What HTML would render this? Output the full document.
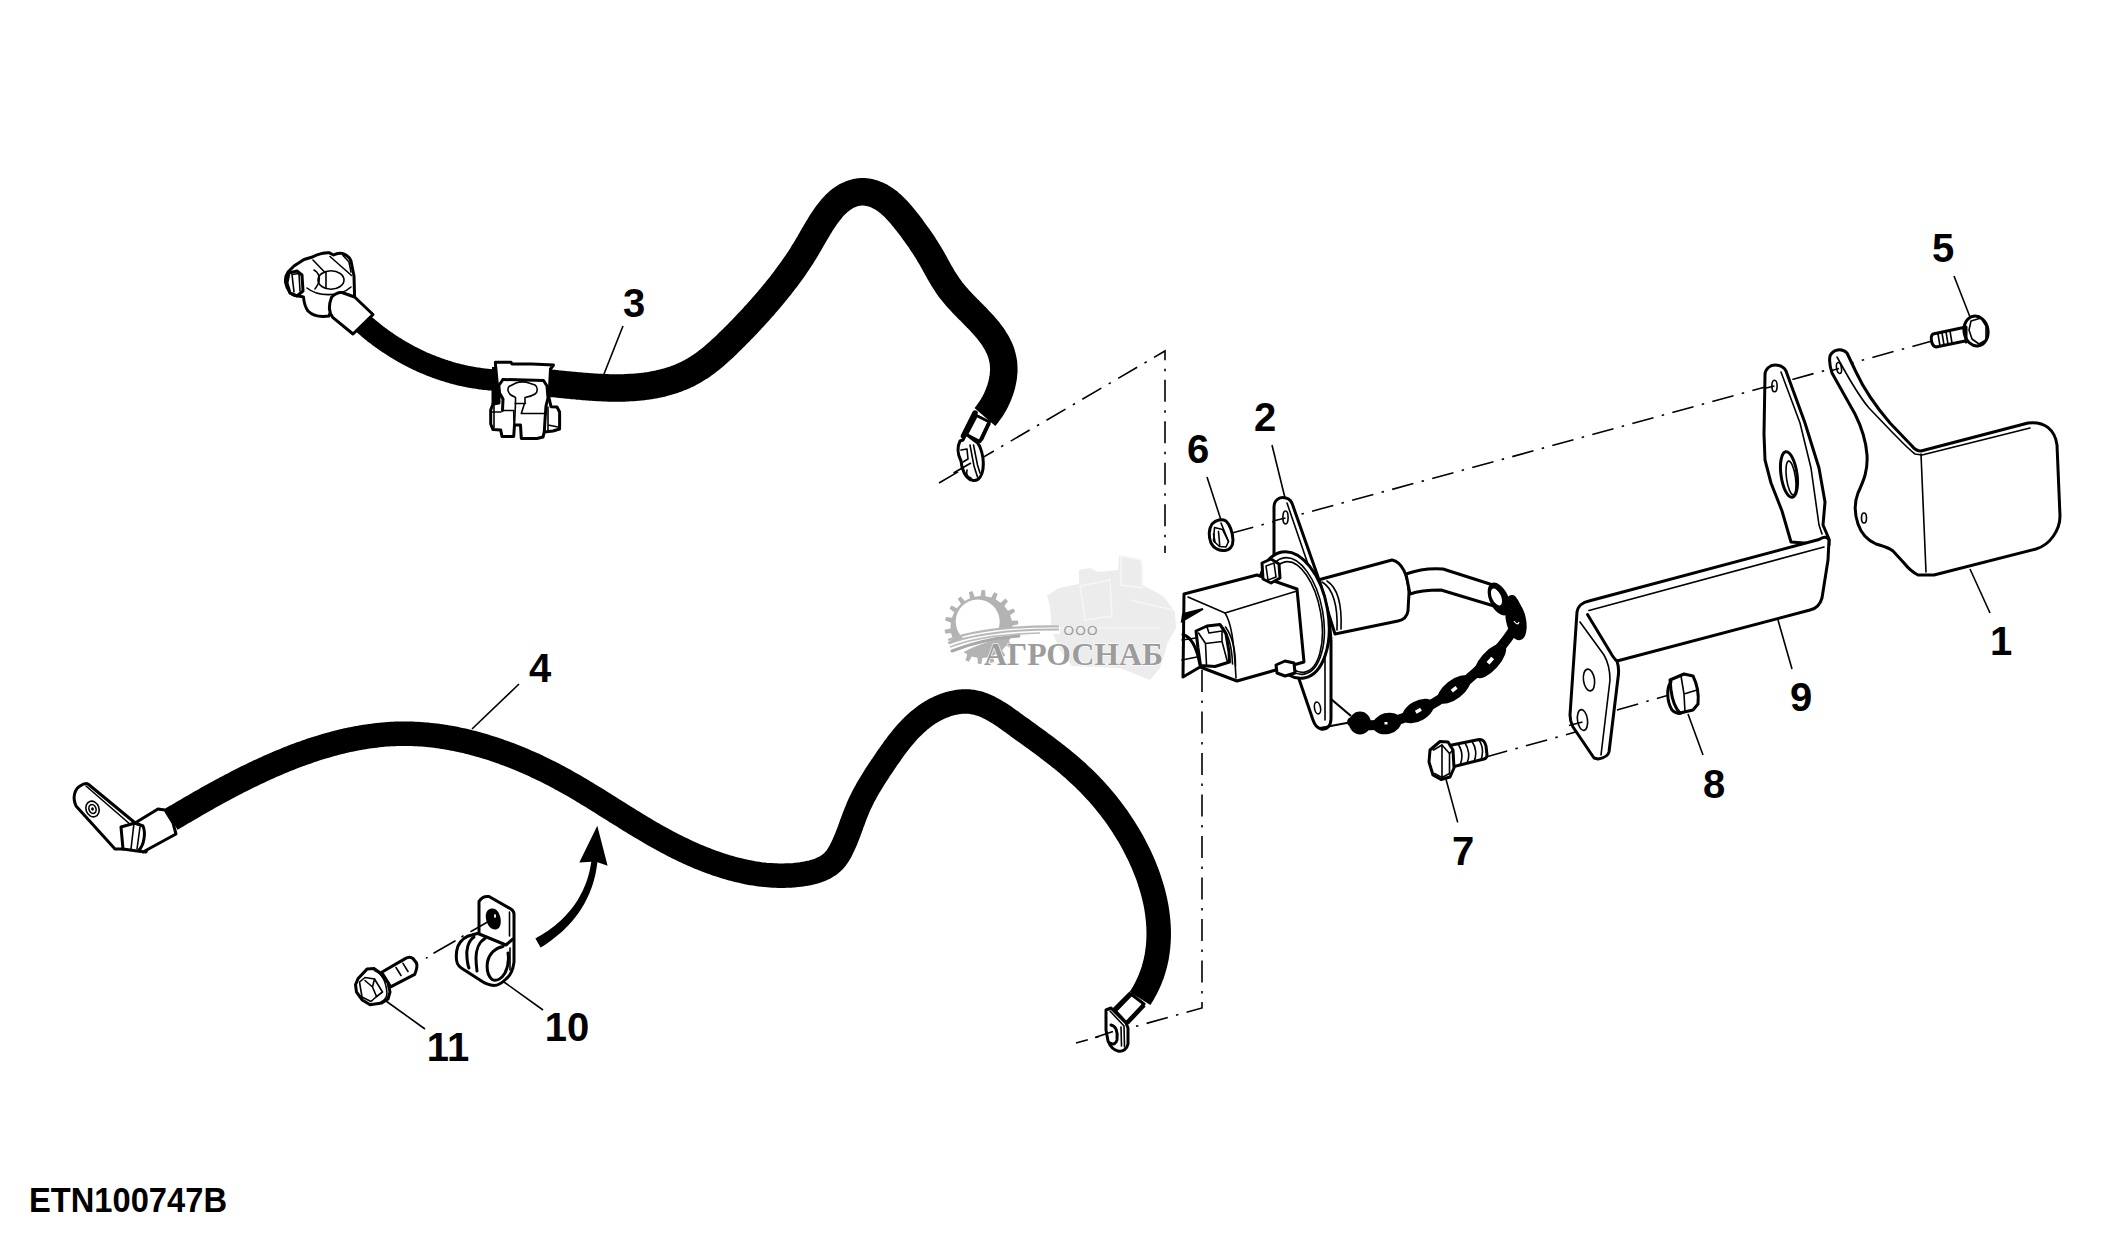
<!DOCTYPE html>
<html><head><meta charset="utf-8"><style>
html,body{margin:0;padding:0;background:#fff;}
svg{display:block;}
</style></head><body>
<svg width="2126" height="1241" viewBox="0 0 2126 1241">
<rect width="2126" height="1241" fill="#fff"/>

<g id="wm">
 <path d="M1059,588 L1079,584 L1079,570 L1090,568 L1098,572 L1118,570 L1119,556 L1140,560 L1143,568 L1143,585 L1163,596 L1175,612 L1176,628 L1168,642 L1160,668 L1150,680 L1140,676 L1120,668 L1072,666 L1060,650 L1052,632 L1050,606 L1047,596 Z" fill="#ececec"/>
 <g fill="none" stroke="#f6f6f6" stroke-width="1.5">
  <path d="M1080,586 L1110,580 L1112,616 L1085,620 Z"/>
  <path d="M1121,556 L1142,560 L1142,588 L1121,585 Z"/>
  <path d="M1130,600 L1173,610"/>
  <path d="M1062,628 L1160,628"/>
 </g>
 <path d="M1012.2,631.5 L1017.9,633.4 L1017.1,637.1 L1011.1,636.3 L1008.8,641.7 L1013.6,645.5 L1011.5,648.6 L1006.1,645.8 L1002.1,650.2 L1005.3,655.3 L1002.3,657.6 L998.2,653.1 L992.9,655.8 L994.2,661.8 L990.6,662.9 L988.3,657.2 L982.4,658.0 L981.5,664.0 L977.8,663.8 L977.5,657.7 L971.7,656.4 L968.9,661.8 L965.4,660.3 L967.3,654.5 L962.3,651.3 L957.7,655.4 L955.0,652.8 L958.7,648.0 L955.1,643.3 L949.5,645.5 L947.8,642.2 L952.9,638.9 L951.1,633.3 L945.1,633.4 L944.6,629.7 L950.5,628.4 L950.8,622.5 L945.1,620.6 L945.9,616.9 L951.9,617.7 L954.2,612.3 L949.4,608.5 L951.5,605.4 L956.9,608.2 L960.9,603.8 L957.7,598.7 L960.7,596.4 L964.8,600.9 L970.1,598.2 L968.8,592.2 L972.4,591.1 L974.7,596.8 L980.6,596.0 L981.5,590.0 L985.2,590.2 L985.5,596.3 L991.3,597.6 L994.1,592.2 L997.6,593.7 L995.7,599.5 L1000.7,602.7 L1005.3,598.6 L1008.0,601.2 L1004.3,606.0 L1007.9,610.7 L1013.5,608.5 L1015.2,611.8 L1010.1,615.1 L1011.9,620.7 L1017.9,620.6 L1018.4,624.3 L1012.5,625.6 Z M999.7,621.6 A22,22 0 1,0 955.7,621.6 A22,22 0 1,0 999.7,621.6 Z" fill="#b3b3b3" fill-rule="evenodd"/>
 <path d="M946,646 C975,630 1010,626 1060,626 L1060,634 C1010,634 980,640 950,660 Z" fill="#fff"/>
 <path d="M948,640 C975,630 1010,626 1059,626.5" stroke="#b8b8b8" stroke-width="2.2" fill="none"/>
 <path d="M949,643.5 C975,633.5 1010,629.5 1059,629.5" stroke="#b8b8b8" stroke-width="1.8" fill="none"/>
 <path d="M950,647 C976,637 1005,634 1040,633" stroke="#bcbcbc" stroke-width="1.6" fill="none"/>
 <path d="M952,651 C978,641 1000,637.5 1019,636" stroke="#a8a8a8" stroke-width="3" fill="none" stroke-linecap="round"/>
 <text x="1063.5" y="634.5" font-family="Liberation Sans, sans-serif" font-size="13.5" fill="#9a9a9a" letter-spacing="1.2">ООО</text>
 <text x="984" y="665" font-family="Liberation Serif, serif" font-weight="bold" font-size="31" fill="#9c9c9c" stroke="#fff" stroke-width="1.2" paint-order="stroke" textLength="179" lengthAdjust="spacingAndGlyphs">АГРОСНАБ</text>
</g>

<path d="M939,483 L1165,351 L1165,553" stroke="#000" stroke-width="1.6" fill="none" stroke-dasharray="22,8.5,2.5,8.5"/>
<path d="M1202,670 L1202,1008 L1076,1043" stroke="#000" stroke-width="1.6" fill="none" stroke-dasharray="22,8.5,2.5,8.5"/>
<path d="M1232,533 L1500,460 L1932,341" stroke="#000" stroke-width="1.6" fill="none" stroke-dasharray="22,8.5,2.5,8.5"/>
<path d="M1486,757 L1579,731" stroke="#000" stroke-width="1.6" fill="none" stroke-dasharray="22,8.5,2.5,8.5"/>
<path d="M1617,710 L1669,695" stroke="#000" stroke-width="1.6" fill="none" stroke-dasharray="22,8.5,2.5,8.5"/>
<path d="M362.2,322.8 L363.2,323.7 L364.2,324.5 L365.1,325.4 L366.2,326.3 L367.2,327.1 L368.2,328.0 L369.2,328.8 L370.2,329.7 L371.2,330.5 L372.3,331.3 L373.3,332.2 L374.3,333.0 L375.4,333.8 L376.4,334.6 L377.5,335.4 L378.5,336.2 L379.6,337.0 L380.7,337.8 L381.7,338.6 L382.8,339.3 L383.9,340.1 L385.0,340.9 L386.1,341.6 L387.1,342.4 L388.2,343.1 L389.3,343.8 L390.5,344.6 L391.6,345.3 L392.7,346.0 L393.8,346.7 L394.9,347.4 L396.0,348.1 L397.2,348.8 L398.3,349.5 L399.4,350.2 L400.6,350.8 L401.7,351.5 L402.9,352.2 L404.0,352.8 L405.2,353.5 L406.3,354.1 L407.5,354.7 L408.7,355.4 L409.8,356.0 L411.0,356.6 L412.2,357.2 L413.4,357.8 L414.5,358.4 L415.7,359.0 L416.9,359.5 L418.1,360.1 L419.3,360.7 L420.5,361.2 L421.7,361.8 L422.9,362.3 L424.1,362.8 L425.4,363.4 L426.6,363.9 L427.8,364.4 L429.0,364.9 L430.2,365.4 L431.5,365.9 L432.7,366.4 L433.9,366.8 L435.2,367.3 L436.4,367.7 L437.6,368.2 L438.9,368.6 L440.1,369.1 L441.4,369.5 L442.6,369.9 L443.9,370.3 L445.1,370.7 L446.4,371.1 L447.7,371.5 L448.9,371.9 L450.2,372.3 L451.5,372.6 L452.7,373.0 L454.0,373.4 L455.3,373.7 L456.6,374.0 L457.8,374.4 L459.1,374.7 L460.4,375.0 L461.7,375.3 L463.0,375.6 L464.3,375.9 L465.6,376.1 L466.9,376.4 L468.2,376.7 L469.5,376.9 L470.8,377.2 L472.1,377.4 L473.4,377.6 L474.7,377.8 L476.0,378.0 L477.3,378.2 L478.6,378.4 L479.9,378.6 L481.2,378.8 L482.5,379.0 L483.8,379.1 L485.2,379.3 L486.5,379.4 L487.8,379.5 L489.1,379.7 L490.4,379.8 L491.8,379.9 L493.1,380.0 L494.4,380.1 L495.7,380.1 L497.1,380.2 L498.4,380.3 L499.7,380.3 L501.0,380.4 L502.4,380.4 L503.7,380.4 L505.0,380.4" stroke="#000" stroke-width="21.5" fill="none" stroke-linejoin="round"/>
<path d="M492.0,380.7 L493.9,380.7 L495.7,380.6 L497.6,380.5 L499.5,380.5 L501.4,380.5 L503.2,380.5 L505.1,380.5 L507.0,380.5 L508.8,380.5 L510.7,380.5 L512.5,380.6 L514.4,380.6 L516.3,380.7 L518.1,380.8 L520.0,380.9 L521.8,381.0 L523.7,381.1 L525.5,381.2 L527.4,381.3 L529.2,381.4 L531.1,381.5 L532.9,381.7 L534.8,381.8 L536.6,382.0 L538.5,382.1 L540.3,382.3 L542.2,382.5 L544.0,382.6 L545.9,382.8 L547.7,383.0 L549.5,383.2 L551.4,383.3 L553.2,383.5 L555.1,383.7 L556.9,383.9 L558.8,384.1 L560.6,384.3 L562.5,384.4 L564.3,384.6 L566.1,384.8 L568.0,385.0 L569.8,385.2 L571.7,385.4 L573.5,385.5 L575.4,385.7 L577.2,385.9 L579.1,386.0 L580.9,386.2 L582.8,386.4 L584.7,386.5 L586.5,386.7 L588.4,386.8 L590.2,386.9 L592.1,387.1 L594.0,387.2 L595.8,387.3 L597.7,387.4 L599.6,387.5 L601.4,387.6 L603.3,387.7 L605.2,387.8 L607.0,387.8 L608.9,387.9 L610.8,387.9 L612.7,387.9 L614.5,388.0 L616.4,388.0 L618.3,388.0 L620.2,387.9 L622.0,387.9 L623.9,387.9 L625.8,387.8 L627.7,387.7 L629.5,387.6 L631.4,387.5 L633.2,387.4 L635.1,387.3 L637.0,387.1 L638.8,386.9 L640.7,386.8 L642.5,386.6 L644.3,386.3 L646.2,386.1 L648.0,385.8 L649.8,385.6 L651.6,385.3 L653.5,384.9 L655.3,384.6 L657.1,384.2 L658.9,383.9 L660.7,383.5 L662.4,383.0 L664.2,382.6 L666.0,382.1 L667.7,381.6 L669.5,381.1 L671.2,380.5 L673.0,380.0 L674.7,379.4 L676.4,378.8 L678.1,378.1 L679.8,377.4 L681.5,376.8 L683.2,376.0 L684.9,375.3 L686.5,374.5 L688.2,373.7 L689.8,372.8 L691.4,372.0 L693.0,371.1 L694.6,370.2 L696.2,369.2 L697.8,368.2 L699.4,367.2 L700.9,366.2 L702.5,365.1 L704.0,364.0 L705.5,362.9 L707.0,361.7 L708.5,360.6 L710.0,359.4 L711.5,358.2 L713.0,357.0 L714.4,355.8 L715.9,354.5 L717.3,353.2 L718.8,352.0 L720.2,350.7 L721.6,349.4 L723.0,348.1 L724.4,346.8 L725.8,345.5 L727.1,344.2 L728.5,342.8 L729.8,341.5 L731.2,340.2 L732.5,338.9 L733.9,337.5 L735.2,336.2 L736.5,334.9 L737.8,333.6 L739.1,332.3 L740.4,330.9 L741.7,329.6 L743.0,328.3 L744.3,326.9 L745.5,325.6 L746.8,324.3 L748.1,322.9 L749.3,321.6 L750.6,320.3 L751.8,318.9 L753.1,317.6 L754.3,316.2 L755.5,314.9 L756.8,313.5 L758.0,312.1 L759.2,310.8 L760.5,309.4 L761.7,308.0 L762.9,306.7 L764.1,305.3 L765.3,303.9 L766.5,302.5 L767.7,301.1 L768.9,299.7 L770.1,298.3 L771.3,296.9 L772.5,295.4 L773.7,294.0 L774.8,292.6 L776.0,291.2 L777.2,289.7 L778.3,288.3 L779.5,286.8 L780.6,285.4 L781.8,283.9 L782.9,282.4 L784.0,281.0 L785.2,279.5 L786.3,278.0 L787.4,276.5 L788.5,275.0 L789.6,273.5 L790.7,272.0 L791.8,270.5 L792.9,269.0 L793.9,267.5 L795.0,266.0 L796.0,264.4 L797.1,262.9 L798.1,261.3 L799.1,259.8 L800.2,258.2 L801.2,256.7 L802.2,255.1 L803.1,253.5 L804.1,252.0 L805.1,250.4 L806.1,248.8 L807.0,247.2 L807.9,245.6 L808.9,244.0 L809.8,242.4 L810.7,240.7 L811.7,239.1 L812.6,237.5 L813.5,235.9 L814.5,234.3 L815.4,232.7 L816.4,231.0 L817.4,229.4 L818.3,227.8 L819.3,226.2 L820.3,224.5 L821.3,222.9 L822.4,221.3 L823.4,219.7 L824.5,218.1 L825.6,216.5 L826.7,214.9 L827.9,213.4 L829.1,211.8 L830.3,210.3 L831.5,208.8 L832.7,207.4 L834.0,206.0 L835.3,204.6 L836.7,203.3 L838.1,202.0 L839.5,200.8 L841.0,199.7 L842.4,198.6 L844.0,197.6 L845.5,196.6 L847.1,195.8 L848.7,195.0 L850.3,194.3 L852.0,193.6 L853.7,193.1 L855.4,192.6 L857.1,192.3 L858.8,192.0 L860.5,191.8 L862.2,191.8 L863.9,191.8 L865.7,191.9 L867.4,192.1 L869.1,192.5 L870.8,192.9 L872.5,193.3 L874.2,193.9 L875.9,194.6 L877.6,195.3 L879.2,196.1 L880.8,196.9 L882.4,197.9 L884.0,198.9 L885.6,199.9 L887.1,201.1 L888.6,202.2 L890.0,203.5 L891.5,204.7 L892.9,206.0 L894.3,207.4 L895.7,208.8 L897.0,210.2 L898.3,211.6 L899.6,213.1 L900.9,214.6 L902.2,216.1 L903.4,217.6 L904.7,219.1 L905.9,220.6 L907.1,222.1 L908.3,223.7 L909.5,225.2 L910.6,226.7 L911.8,228.2 L912.9,229.8 L914.0,231.3 L915.1,232.8 L916.2,234.3 L917.3,235.8 L918.4,237.4 L919.5,238.9 L920.5,240.4 L921.5,242.0 L922.6,243.5 L923.6,245.0 L924.6,246.6 L925.6,248.1 L926.5,249.7 L927.5,251.2 L928.5,252.8 L929.4,254.4 L930.3,255.9 L931.3,257.5 L932.2,259.1 L933.1,260.7 L934.0,262.3 L934.9,263.9 L935.7,265.5 L936.6,267.1 L937.5,268.7 L938.4,270.3 L939.3,271.9 L940.2,273.5 L941.2,275.1 L942.1,276.7 L943.0,278.3 L944.0,279.8 L945.0,281.4 L946.0,282.9 L947.0,284.5 L948.0,286.0 L949.1,287.5 L950.2,289.0 L951.3,290.5 L952.5,292.0 L953.7,293.4 L954.9,294.9 L956.1,296.3 L957.3,297.7 L958.6,299.1 L959.9,300.5 L961.2,301.9 L962.5,303.3 L963.8,304.7 L965.1,306.0 L966.5,307.4 L967.8,308.8 L969.2,310.1 L970.5,311.5 L971.9,312.8 L973.2,314.2 L974.5,315.6 L975.9,316.9 L977.2,318.3 L978.5,319.6 L979.8,321.0 L981.1,322.4 L982.4,323.8 L983.6,325.2 L984.9,326.6 L986.1,328.0 L987.3,329.4 L988.5,330.8 L989.6,332.3 L990.7,333.8 L991.8,335.2 L992.8,336.7 L993.8,338.2 L994.8,339.8 L995.8,341.3 L996.7,342.9 L997.5,344.4 L998.3,346.1 L999.1,347.7 L999.8,349.3 L1000.5,351.0 L1001.1,352.7 L1001.6,354.4 L1002.1,356.1 L1002.5,357.8 L1002.9,359.6 L1003.2,361.3 L1003.5,363.1 L1003.6,364.9 L1003.7,366.8 L1003.8,368.6 L1003.8,370.4 L1003.7,372.3 L1003.5,374.1 L1003.4,376.0 L1003.1,377.9 L1002.8,379.7 L1002.4,381.6 L1002.0,383.4 L1001.6,385.3 L1001.0,387.2 L1000.5,389.0 L999.9,390.8 L999.2,392.6 L998.5,394.4 L997.8,396.2 L997.0,398.0 L996.2,399.7 L995.3,401.5 L994.4,403.2 L993.5,404.8 L992.5,406.5 L991.5,408.1 L990.5,409.7 L989.4,411.2 L988.3,412.7 L987.2,414.2 L986.1,415.6 L984.9,417.0" stroke="#000" stroke-width="27.5" fill="none" stroke-linejoin="round"/>
<path d="M171.3,819.2 L173.5,817.9 L175.7,816.6 L177.9,815.4 L180.0,814.1 L182.2,812.8 L184.5,811.5 L186.7,810.2 L188.9,808.9 L191.1,807.6 L193.4,806.3 L195.6,805.0 L197.9,803.7 L200.1,802.4 L202.4,801.1 L204.7,799.8 L207.0,798.5 L209.3,797.2 L211.6,795.9 L213.9,794.6 L216.2,793.4 L218.5,792.1 L220.9,790.8 L223.2,789.6 L225.5,788.3 L227.9,787.1 L230.2,785.8 L232.6,784.6 L235.0,783.4 L237.4,782.1 L239.7,780.9 L242.1,779.7 L244.5,778.5 L246.9,777.3 L249.3,776.1 L251.8,775.0 L254.2,773.8 L256.6,772.6 L259.0,771.5 L261.5,770.4 L263.9,769.2 L266.4,768.1 L268.8,767.0 L271.3,765.9 L273.7,764.8 L276.2,763.8 L278.7,762.7 L281.2,761.7 L283.6,760.7 L286.1,759.6 L288.6,758.6 L291.1,757.7 L293.6,756.7 L296.1,755.7 L298.6,754.8 L301.1,753.9 L303.7,753.0 L306.2,752.1 L308.7,751.2 L311.2,750.3 L313.8,749.5 L316.3,748.7 L318.9,747.9 L321.4,747.1 L323.9,746.3 L326.5,745.6 L329.1,744.9 L331.6,744.1 L334.2,743.5 L336.7,742.8 L339.3,742.1 L341.9,741.5 L344.4,740.9 L347.0,740.3 L349.6,739.8 L352.2,739.2 L354.8,738.7 L357.3,738.2 L359.9,737.8 L362.5,737.3 L365.1,736.9 L367.7,736.5 L370.3,736.1 L372.9,735.8 L375.5,735.5 L378.1,735.2 L380.7,734.9 L383.3,734.6 L385.9,734.4 L388.5,734.2 L391.1,734.1 L393.7,734.0 L396.3,733.8 L399.0,733.8 L401.6,733.7 L404.2,733.7 L406.8,733.7 L409.4,733.8 L412.0,733.8 L414.6,733.9 L417.2,734.1 L419.9,734.2 L422.5,734.4 L425.1,734.6 L427.7,734.8 L430.3,735.1 L432.9,735.4 L435.5,735.7 L438.1,736.0 L440.7,736.4 L443.4,736.8 L446.0,737.2 L448.6,737.7 L451.2,738.1 L453.8,738.6 L456.3,739.1 L458.9,739.7 L461.5,740.2 L464.1,740.8 L466.7,741.4 L469.3,742.1 L471.8,742.7 L474.4,743.4 L477.0,744.1 L479.6,744.8 L482.1,745.5 L484.7,746.3 L487.2,747.1 L489.8,747.9 L492.3,748.7 L494.8,749.5 L497.4,750.4 L499.9,751.3 L502.4,752.1 L504.9,753.1 L507.4,754.0 L509.9,754.9 L512.4,755.9 L514.9,756.9 L517.4,757.9 L519.9,758.9 L522.3,759.9 L524.8,761.0 L527.3,762.1 L529.7,763.1 L532.1,764.2 L534.6,765.3 L537.0,766.5 L539.4,767.6 L541.8,768.8 L544.2,769.9 L546.6,771.1 L549.0,772.3 L551.4,773.5 L553.7,774.7 L556.1,776.0 L558.4,777.2 L560.7,778.5 L563.1,779.7 L565.4,781.0 L567.7,782.3 L570.0,783.6 L572.3,784.9 L574.6,786.2 L576.8,787.5 L579.1,788.9 L581.4,790.2 L583.6,791.6 L585.9,792.9 L588.1,794.3 L590.4,795.6 L592.6,797.0 L594.8,798.4 L597.1,799.8 L599.3,801.1 L601.5,802.5 L603.7,803.9 L605.9,805.3 L608.2,806.7 L610.4,808.1 L612.6,809.5 L614.8,810.9 L617.0,812.3 L619.2,813.6 L621.4,815.0 L623.7,816.4 L625.9,817.8 L628.1,819.2 L630.3,820.6 L632.6,821.9 L634.8,823.3 L637.0,824.7 L639.3,826.0 L641.5,827.4 L643.8,828.7 L646.0,830.0 L648.3,831.4 L650.5,832.7 L652.8,834.0 L655.1,835.3 L657.4,836.6 L659.7,837.9 L662.0,839.2 L664.3,840.4 L666.6,841.7 L669.0,842.9 L671.3,844.1 L673.6,845.3 L676.0,846.5 L678.4,847.7 L680.8,848.9 L683.2,850.0 L685.6,851.2 L688.0,852.3 L690.4,853.4 L692.9,854.5 L695.4,855.6 L697.8,856.6 L700.3,857.7 L702.8,858.7 L705.3,859.7 L707.9,860.6 L710.4,861.6 L713.0,862.5 L715.5,863.4 L718.1,864.3 L720.7,865.1 L723.3,866.0 L725.9,866.8 L728.5,867.5 L731.1,868.3 L733.7,869.0 L736.3,869.7 L738.9,870.3 L741.6,870.9 L744.2,871.5 L746.8,872.1 L749.5,872.6 L752.1,873.1 L754.8,873.5 L757.4,873.9 L760.1,874.3 L762.7,874.6 L765.4,874.9 L768.0,875.1 L770.7,875.3 L773.3,875.5 L775.9,875.6 L778.6,875.7 L781.2,875.7 L783.8,875.7 L786.4,875.6 L789.1,875.5 L791.7,875.4 L794.3,875.2 L796.9,874.9 L799.4,874.6 L802.0,874.3 L804.6,873.8 L807.1,873.4 L809.7,872.9 L812.2,872.3 L814.7,871.6 L817.1,870.8 L819.5,870.0 L821.8,869.0 L824.1,867.9 L826.3,866.7 L828.4,865.4 L830.4,863.9 L832.2,862.3 L834.0,860.5 L835.7,858.6 L837.2,856.5 L838.7,854.2 L840.1,851.9 L841.3,849.5 L842.5,847.0 L843.7,844.5 L844.8,842.0 L845.9,839.5 L846.9,837.0 L847.9,834.4 L848.9,831.8 L849.8,829.3 L850.8,826.7 L851.7,824.1 L852.6,821.6 L853.6,819.1 L854.5,816.5 L855.5,814.0 L856.5,811.5 L857.5,809.1 L858.5,806.6 L859.6,804.2 L860.7,801.9 L861.9,799.5 L863.0,797.2 L864.2,794.9 L865.5,792.6 L866.7,790.3 L868.0,788.1 L869.3,785.8 L870.7,783.6 L872.0,781.4 L873.4,779.1 L874.8,776.9 L876.2,774.7 L877.6,772.6 L879.0,770.4 L880.5,768.2 L882.0,766.0 L883.4,763.8 L884.9,761.6 L886.4,759.4 L887.9,757.2 L889.5,755.0 L891.0,752.8 L892.6,750.6 L894.1,748.4 L895.7,746.3 L897.4,744.1 L899.0,742.0 L900.7,739.9 L902.4,737.8 L904.1,735.7 L905.8,733.7 L907.6,731.7 L909.4,729.8 L911.3,727.8 L913.2,726.0 L915.1,724.1 L917.1,722.3 L919.1,720.6 L921.2,718.9 L923.2,717.3 L925.4,715.7 L927.6,714.2 L929.8,712.7 L932.1,711.3 L934.4,710.0 L936.8,708.8 L939.2,707.7 L941.6,706.6 L944.1,705.6 L946.6,704.7 L949.1,703.9 L951.6,703.2 L954.1,702.7 L956.7,702.2 L959.2,701.8 L961.8,701.6 L964.3,701.5 L966.8,701.5 L969.4,701.6 L971.9,701.9 L974.3,702.3 L976.8,702.9 L979.2,703.5 L981.7,704.3 L984.1,705.3 L986.5,706.3 L988.8,707.4 L991.2,708.6 L993.5,709.9 L995.8,711.2 L998.1,712.6 L1000.4,714.1 L1002.7,715.6 L1005.0,717.1 L1007.3,718.7 L1009.5,720.3 L1011.8,721.9 L1014.0,723.6 L1016.2,725.2 L1018.4,726.8 L1020.7,728.4 L1022.9,730.0 L1025.1,731.6 L1027.3,733.1 L1029.4,734.7 L1031.6,736.3 L1033.8,737.9 L1035.9,739.4 L1038.1,741.0 L1040.2,742.6 L1042.3,744.1 L1044.5,745.7 L1046.6,747.3 L1048.7,748.9 L1050.8,750.5 L1052.8,752.1 L1054.9,753.7 L1057.0,755.3 L1059.0,756.9 L1061.1,758.5 L1063.1,760.2 L1065.1,761.8 L1067.1,763.5 L1069.1,765.1 L1071.0,766.8 L1073.0,768.5 L1075.0,770.3 L1076.9,772.0 L1078.8,773.8 L1080.7,775.6 L1082.6,777.4 L1084.5,779.2 L1086.3,781.0 L1088.2,782.9 L1090.0,784.7 L1091.8,786.6 L1093.6,788.5 L1095.4,790.5 L1097.2,792.4 L1099.0,794.4 L1100.7,796.4 L1102.4,798.4 L1104.1,800.4 L1105.8,802.5 L1107.4,804.5 L1109.1,806.6 L1110.7,808.7 L1112.3,810.8 L1113.9,812.9 L1115.5,815.1 L1117.0,817.2 L1118.5,819.4 L1120.0,821.6 L1121.5,823.8 L1123.0,826.1 L1124.4,828.3 L1125.8,830.6 L1127.2,832.9 L1128.6,835.2 L1130.0,837.5 L1131.3,839.8 L1132.6,842.1 L1133.9,844.5 L1135.1,846.9 L1136.3,849.3 L1137.5,851.7 L1138.7,854.1 L1139.9,856.5 L1141.0,859.0 L1142.1,861.4 L1143.2,863.9 L1144.2,866.4 L1145.2,868.9 L1146.2,871.4 L1147.2,873.9 L1148.1,876.4 L1149.0,879.0 L1149.8,881.5 L1150.6,884.1 L1151.4,886.7 L1152.2,889.2 L1152.9,891.8 L1153.6,894.4 L1154.2,897.0 L1154.8,899.6 L1155.4,902.2 L1155.9,904.8 L1156.4,907.4 L1156.8,910.0 L1157.2,912.6 L1157.5,915.2 L1157.8,917.8 L1158.1,920.4 L1158.3,923.1 L1158.5,925.7 L1158.6,928.3 L1158.7,930.9 L1158.7,933.5 L1158.7,936.1 L1158.6,938.7 L1158.5,941.3 L1158.3,943.9 L1158.1,946.5 L1157.8,949.1 L1157.5,951.6 L1157.1,954.2 L1156.7,956.8 L1156.2,959.3 L1155.6,961.9 L1155.0,964.4 L1154.3,966.9 L1153.6,969.4 L1152.8,971.9 L1152.0,974.4 L1151.0,976.9 L1150.1,979.4 L1149.0,981.8 L1147.9,984.3 L1146.8,986.7 L1145.5,989.1 L1144.2,991.5 L1142.9,993.9 L1141.5,996.2 L1140.0,998.6" stroke="#000" stroke-width="24.5" fill="none" stroke-linejoin="round"/>
<path d="M540.6,947.5 L543.1,946.0 L545.6,944.4 L548.0,942.7 L550.5,940.9 L553.0,939.1 L555.5,937.1 L557.9,935.1 L560.4,933.0 L562.8,930.9 L565.2,928.6 L567.5,926.2 L569.8,923.8 L572.1,921.2 L574.3,918.6 L576.4,915.8 L578.5,912.9 L580.5,910.0 L582.4,906.9 L584.3,903.8 L586.0,900.5 L587.7,897.1 L589.3,893.6 L590.7,890.0 L592.1,886.2 L593.3,882.4 L594.4,878.4 L595.4,874.4 L596.2,870.2 L596.9,865.8 L597.5,861.4 L591.5,860.6 L590.8,864.8 L590.0,868.9 L589.1,872.9 L588.0,876.7 L586.9,880.4 L585.6,883.9 L584.2,887.3 L582.7,890.7 L581.1,893.8 L579.4,896.9 L577.7,899.9 L575.9,902.8 L574.0,905.5 L572.0,908.2 L569.9,910.7 L567.9,913.1 L565.7,915.5 L563.5,917.8 L561.3,919.9 L559.0,922.0 L556.7,924.0 L554.4,925.9 L552.0,927.7 L549.7,929.5 L547.3,931.2 L544.9,932.8 L542.5,934.3 L540.1,935.8 L537.7,937.1 L535.4,938.5 Z" fill="#000"/>
<path d="M597.3,825.8 L607.6,865.7 L595.5,861.5 L579.3,862.5 Z" fill="#000"/>
<g>
<!-- cylinder -->
<path d="M1318,580 L1392,560 C1402,562 1408,575 1409,592 L1408,611 C1407,617 1403,620 1398,621 L1335,634 Z" stroke="#000" fill="#fff" stroke-width="3" stroke-linejoin="round" stroke-linecap="round"/>
<path d="M1322,582 C1333,588 1338,606 1337,630 M1327,581 C1338,588 1342,606 1341,629" stroke="#000" fill="none" stroke-width="1.6" stroke-linejoin="round" stroke-linecap="round"/>
<!-- key shaft -->
<path d="M1406,574 C1420,569 1432,568 1443,569 L1493,585 L1494,606 L1441,590 C1428,590 1418,591 1410,594 Z" stroke="#000" fill="#fff" stroke-width="3" stroke-linejoin="round" stroke-linecap="round"/>
<!-- flange plate -->
<path d="M1274,560 L1274,507 C1274,500 1280,496 1286,498 C1290,499 1292,502 1293,506 L1317,574 C1325,596 1330,615 1331,640 L1331,718 C1331,726 1327,730 1321,729 C1317,728 1315,726 1313,720 L1298,676 L1270,640 Z" stroke="#000" fill="#fff" stroke-width="3" stroke-linejoin="round" stroke-linecap="round"/>
<path d="M1287,503 L1311,573 C1319,596 1324,618 1325,640 L1325,720" stroke="#000" fill="none" stroke-width="1.6" stroke-linejoin="round" stroke-linecap="round"/>
<ellipse cx="1285.5" cy="517.5" rx="2.6" ry="6.5" stroke="#000" fill="none" stroke-width="1.6" stroke-linejoin="round" stroke-linecap="round" stroke-width="2.4"/>
<ellipse cx="1317.5" cy="708" rx="3" ry="6" transform="rotate(-10 1317.5 708)" stroke="#000" fill="none" stroke-width="1.6" stroke-linejoin="round" stroke-linecap="round" stroke-width="2"/>
<!-- flange disk -->
<ellipse cx="1293" cy="615" rx="35" ry="64" transform="rotate(-10 1293 615)" stroke="#000" fill="#fff" stroke-width="3" stroke-linejoin="round" stroke-linecap="round"/>
<ellipse cx="1294" cy="616" rx="29" ry="59" transform="rotate(-10 1294 616)" stroke="#000" fill="none" stroke-width="1.6" stroke-linejoin="round" stroke-linecap="round"/>
<ellipse cx="1295" cy="617" rx="26" ry="56" transform="rotate(-10 1295 617)" stroke="#000" fill="none" stroke-width="1.6" stroke-linejoin="round" stroke-linecap="round"/>
<!-- body box -->
<path d="M1184,594 L1257,575 L1297,589 L1304,662 L1237,681 L1200,667 L1183,677 Z" stroke="#000" fill="#fff" stroke-width="3" stroke-linejoin="round" stroke-linecap="round"/>
<path d="M1188,597 L1225,613 L1297,591" stroke="#000" fill="none" stroke-width="1.6" stroke-linejoin="round" stroke-linecap="round"/>
<path d="M1225,613 C1231,622 1234,640 1236,678" stroke="#000" fill="none" stroke-width="1.6" stroke-linejoin="round" stroke-linecap="round"/>
<path d="M1183,614 L1203,609 L1182,621 Z" fill="#000" stroke="#000" stroke-width="2"/>
<path d="M1183,634.5 C1191,637 1197,648 1200,665" stroke="#000" fill="none" stroke-width="3" stroke-linejoin="round" stroke-linecap="round" stroke-width="3.2"/>
<path d="M1182,640 L1196,638 M1182,660 L1197,657" stroke="#000" fill="none" stroke-width="1.6" stroke-linejoin="round" stroke-linecap="round"/>
<!-- front nut -->
<path d="M1221,625 C1228,633 1232,648 1232.5,664 M1225.5,627 C1232,636 1235.5,650 1235.5,666" stroke="#000" fill="none" stroke-width="1.6" stroke-linejoin="round" stroke-linecap="round" stroke-width="1.8"/>
<path d="M1196,631 L1207,626 L1220,624.5 L1226,634 L1229,652 L1229.5,662 L1215,666.5 L1200.5,665.5 L1198,648 Z" stroke="#000" fill="#fff" stroke-width="3" stroke-linejoin="round" stroke-linecap="round" stroke-width="3.2"/>
<path d="M1198.5,633 L1205.5,643.5 L1206.5,665 M1205.5,643.5 L1222,641.5 L1227.5,662 M1207,627 L1209,633 L1222,631 L1222,641.5" stroke="#000" fill="none" stroke-width="1.6" stroke-linejoin="round" stroke-linecap="round" stroke-width="1.8"/>
<!-- small nut top -->
<path d="M1262,563 L1271,559 L1279,564 L1280,578 L1271,583 L1263,579 Z" stroke="#000" fill="#fff" stroke-width="3" stroke-linejoin="round" stroke-linecap="round"/>
<path d="M1266,566 L1274,563 L1276,577 L1268,580 Z" stroke="#000" fill="none" stroke-width="1.6" stroke-linejoin="round" stroke-linecap="round"/>
<!-- lower small nut -->
<path d="M1276,665 L1285,661 L1294,663 L1295,673 L1285,676 L1277,673 Z" stroke="#000" fill="#fff" stroke-width="3" stroke-linejoin="round" stroke-linecap="round"/>
</g>
<g>
<path d="M1331,699 L1351,716 M1320,728 L1352,722" stroke="#000" stroke-width="2.2" fill="none"/>
<path d="M1352,722 C1365,727 1380,726 1395,721 C1420,713 1440,700 1460,686 C1480,670 1500,650 1512,632 C1518,620 1520,610 1512,600" stroke="#000" stroke-width="10" fill="none" stroke-linecap="round"/>
<ellipse cx="1360" cy="723" rx="10" ry="10.5" fill="#000" stroke="#000" stroke-width="2"/>
<ellipse cx="1387" cy="723.5" rx="13.5" ry="9.5" transform="rotate(-15 1387 723.5)" fill="#000" stroke="#000" stroke-width="2"/>
<ellipse cx="1418" cy="711" rx="16.5" ry="9" transform="rotate(-30 1418 711)" fill="#000" stroke="#000" stroke-width="2"/>
<ellipse cx="1454" cy="689.5" rx="18.5" ry="8.5" transform="rotate(-38 1454 689.5)" fill="#000" stroke="#000" stroke-width="2"/>
<ellipse cx="1490" cy="661" rx="20.5" ry="8.5" transform="rotate(-48 1490 661)" fill="#000" stroke="#000" stroke-width="2"/>
<ellipse cx="1516" cy="620" rx="9" ry="19.5" transform="rotate(-12 1516 620)" fill="#000" stroke="#000" stroke-width="2"/>
<ellipse cx="1499" cy="599" rx="9.5" ry="17.5" transform="rotate(-25 1499 599)" fill="#000"/>
<ellipse cx="1496.5" cy="597" rx="4.5" ry="9" transform="rotate(-25 1496.5 597)" fill="#fff"/>
<rect x="1415" y="709" width="6" height="3.5" fill="#fff" transform="rotate(-30 1418 710)"/>
<rect x="1451" y="687.5" width="6" height="3.5" fill="#fff" transform="rotate(-38 1454 689)"/>
<rect x="1487" y="659" width="7" height="4" fill="#fff" transform="rotate(-48 1490 661)"/>
<rect x="1384.5" y="722" width="3" height="2.5" fill="#fff"/>
<path d="M1514,621 C1516,624 1518,625 1519,622" stroke="#fff" stroke-width="1.2" fill="none"/>
</g>
<g>
<!-- upper vertical plate -->
<path d="M1791,542 L1782,511 L1771,483 L1765,460 L1764,434 L1765,375 C1765,369 1770,365 1775,365 C1780,365 1784,367 1786,371 L1805,423 L1819,468 L1825,502 L1823,525 L1829,539 L1829,545 Z" stroke="#000" fill="#fff" stroke-width="3" stroke-linejoin="round" stroke-linecap="round"/>
<path d="M1781,372 L1800,423 L1811,468 L1819,525 L1822,534" stroke="#000" fill="none" stroke-width="1.6" stroke-linejoin="round" stroke-linecap="round"/>
<ellipse cx="1789" cy="474.5" rx="8" ry="23" transform="rotate(-8 1789 474.5)" stroke="#000" fill="#fff" stroke-width="3" stroke-linejoin="round" stroke-linecap="round" stroke-width="2.5"/>
<ellipse cx="1791" cy="478" rx="4.5" ry="17" transform="rotate(-8 1791 478)" stroke="#000" fill="none" stroke-width="1.6" stroke-linejoin="round" stroke-linecap="round"/>
<ellipse cx="1774.5" cy="386" rx="2.6" ry="5.8" stroke="#000" fill="none" stroke-width="1.6" stroke-linejoin="round" stroke-linecap="round" stroke-width="3.4"/>
<!-- horizontal arm + left plate -->
<path d="M1577,612 C1578,606 1583,602 1589,601 L1819,539.5 C1823,537 1827,536 1829,540 L1828,560 L1822,598 C1820,605 1815,609 1810,610 L1617,661 C1619,667 1619,672 1618,678 L1609,752 C1608,756 1604,758 1598,759 L1594,758 L1573,727 C1571,723 1570,719 1570,715 Z" stroke="#000" fill="#fff" stroke-width="3" stroke-linejoin="round" stroke-linecap="round"/>
<path d="M1589,610.5 L1824,547" stroke="#000" fill="none" stroke-width="1.6" stroke-linejoin="round" stroke-linecap="round"/>
<path d="M1587.5,614.5 L1612,655 C1614,658 1615,660 1617,661" stroke="#000" fill="none" stroke-width="3" stroke-linejoin="round" stroke-linecap="round" stroke-width="2.6"/>
<path d="M1580,622 L1604,655 C1608,662 1610,670 1610,680 L1601,755" stroke="#000" fill="none" stroke-width="1.6" stroke-linejoin="round" stroke-linecap="round"/>
<ellipse cx="1589" cy="680" rx="5.5" ry="11" transform="rotate(-8 1589 680)" stroke="#000" fill="none" stroke-width="1.6" stroke-linejoin="round" stroke-linecap="round" stroke-width="2.6"/>
<ellipse cx="1582.5" cy="720" rx="5" ry="10.5" transform="rotate(-8 1582.5 720)" stroke="#000" fill="none" stroke-width="1.6" stroke-linejoin="round" stroke-linecap="round" stroke-width="2.6"/>
</g>
<g>
<path d="M1830,356 C1833,349 1842,348 1847,353 L1856,372 C1862,385 1872,402 1890,423 L1912,446 C1915,450 1918,451 1921,451 L2028,423 C2045,421 2055,430 2057,445 L2060,516 C2060,530 2050,545 2036,549 L1934,575 L1918,575 C1912,572 1908,568 1904,563 L1893,551 C1888,547 1882,546 1876,544 C1867,540 1861,533 1858,524 C1854,512 1854,503 1858,493 C1864,480 1868,470 1867,455 C1866,440 1862,428 1855,414 L1832,373 C1830,367 1829,361 1830,356 Z" stroke="#000" fill="#fff" stroke-width="3" stroke-linejoin="round" stroke-linecap="round"/>
<path d="M1837,357 C1842,366 1846,373 1850,380 C1856,390 1862,400 1869,408 L1892,432 C1900,440 1907,448 1915,454 L1922,455 L2030,428" stroke="#000" fill="none" stroke-width="1.6" stroke-linejoin="round" stroke-linecap="round"/>
<path d="M1921,454 L1926,572" stroke="#000" fill="none" stroke-width="1.6" stroke-linejoin="round" stroke-linecap="round"/>
<ellipse cx="1864" cy="518" rx="2.5" ry="5" stroke="#000" fill="none" stroke-width="1.6" stroke-linejoin="round" stroke-linecap="round" stroke-width="2.2"/>
<ellipse cx="1839" cy="368" rx="2.4" ry="5.5" transform="rotate(-10 1839 368)" stroke="#000" fill="none" stroke-width="1.6" stroke-linejoin="round" stroke-linecap="round" stroke-width="3.4"/>
</g>
<path d="M1764,388.5 L1774.5,386 M1830,371 L1839,368.5 M1569,725.5 L1582.5,722 M1273,521 L1285.5,518" stroke="#000" stroke-width="1.6" fill="none"/>
<g>
<path d="M294,266 L304,259.5 L312.5,257 C318,254 324,252.5 329,252.7 L333.5,255 C337,253 340,253 342.5,253.5 C347,255 350,258 351,261 L354,276 L354.6,297 L340,300 C335,304 331,310 329,316 C322,317 313,316 308,311 C305,307 304,303 303.5,297 L296,295.5 C291,295 287,290 285.7,283 C285,279 286,275 288,272 C290,270 292,268 294,266 Z" stroke="#000" fill="#fff" stroke-width="3" stroke-linejoin="round" stroke-linecap="round"/>
<ellipse cx="331" cy="280" rx="13" ry="9.2" stroke="#000" fill="none" stroke-width="1.6" stroke-linejoin="round" stroke-linecap="round"/>
<path d="M326,272 L326,288.5" stroke="#000" fill="none" stroke-width="1.6" stroke-linejoin="round" stroke-linecap="round"/>
<path d="M313,260 L325,272.5 M330,256.5 L351.5,275.5" stroke="#000" fill="none" stroke-width="1.6" stroke-linejoin="round" stroke-linecap="round"/>
<path d="M307,288 C318,297 340,297 351,287" stroke="#000" fill="none" stroke-width="1.6" stroke-linejoin="round" stroke-linecap="round"/>
<path d="M314,270 C318,272 320,276 319,282 C318,285 316,287 315,289" stroke="#000" fill="none" stroke-width="1.6" stroke-linejoin="round" stroke-linecap="round"/>
<path d="M343,255.5 L349,262 L351,272" stroke="#000" fill="none" stroke-width="1.6" stroke-linejoin="round" stroke-linecap="round"/>
<path d="M289,273 L297,271 L302,275 L303,291 L297,296 L290,293 L287,283 Z" stroke="#000" fill="#fff" stroke-width="3" stroke-linejoin="round" stroke-linecap="round" stroke-width="2.6"/>
<path d="M292,274.5 L299,273.5 L300,291 M292,274.5 L294,292" stroke="#000" fill="none" stroke-width="1.6" stroke-linejoin="round" stroke-linecap="round"/>
<path d="M331.7,297 C336,293 339,292 342,292.5 L354.6,297 L373,314.5 L353,334 L333,317.7 C329,313 328,306 331.7,297 Z" stroke="#000" fill="#fff" stroke-width="3" stroke-linejoin="round" stroke-linecap="round"/>
</g>
<g>
<path d="M491.5,389 L499.5,389 L499.5,404 L491.5,404 Z" fill="#000"/>
<path d="M495.3,362.3 L511,362.3 L512,364 L532,364 L553.5,365 L550.5,369 L549,398 L551,406.7 L557,407 L559.6,412 L559.6,429 L553,431 L544.3,432 L543,437 L537,438.5 L521.3,438.5 L520.5,425 L514.5,425 L513.7,436.5 L502,436.5 L500.7,430 L493,429.6 L490.7,424 L490.7,410 L493,404 L499,403 L499,391 L497.6,387.5 Z" stroke="#000" fill="#fff" stroke-width="3" stroke-linejoin="round" stroke-linecap="round"/>
<path d="M503,379.5 L543.5,380.5 L547,386 L548,398 L546,406 L545,420 L544.3,432" stroke="#000" fill="none" stroke-width="3" stroke-linejoin="round" stroke-linecap="round"/>
<path d="M503,379.5 L498.8,385.5 L499.5,393 L503,399 L502.5,410.5" stroke="#000" fill="none" stroke-width="3" stroke-linejoin="round" stroke-linecap="round"/>
<path d="M516,383 C519,381.5 526,381.5 529,383 L535,385 C538,387 538,392 535,394 C532,396 528,397 525,397.5 L525,403 M516,383 L509,386.5 C507,389 508,393 511,395 C513,396.5 515,397 515.5,397.5 L515.5,403" stroke="#000" fill="none" stroke-width="1.6" stroke-linejoin="round" stroke-linecap="round" stroke-width="2"/>
<path d="M515,403.5 L525.5,403.5 M515.5,403.5 L514.5,425 M524.5,403.5 L521.3,413.5 L544,413.5" stroke="#000" fill="none" stroke-width="1.6" stroke-linejoin="round" stroke-linecap="round" stroke-width="2.2"/>
<path d="M502.5,410.5 L513.7,410.5 L514,425" stroke="#000" fill="none" stroke-width="1.6" stroke-linejoin="round" stroke-linecap="round" stroke-width="2.2"/>
<path d="M494,405 L494,428 M491,412 L501,412 M548,407 L548,431 M548,425 L558,427" stroke="#000" fill="none" stroke-width="1.6" stroke-linejoin="round" stroke-linecap="round"/>
</g>
<g>
<path d="M966.5,434.5 L976.5,415.5 L989.5,422 L980,441.5 Z" stroke="#000" fill="#fff" stroke-width="3" stroke-linejoin="round" stroke-linecap="round" stroke-width="3.2"/>
<path d="M975,413 L963.5,436" stroke="#000" stroke-width="5.5" stroke-linecap="round"/>
<path d="M989,423 L981,440" stroke="#000" stroke-width="4"/>
<path d="M966,434 L963,440 L960,441 C957,447 958,455 961,461 L962,467 C964,474 968,480 973.5,480.5 C978.5,481 982,476 983,469 C984,461 982,452 980,447 C979,444 977,442 975,441 Z" stroke="#000" fill="#fff" stroke-width="3" stroke-linejoin="round" stroke-linecap="round" stroke-width="3.4"/>
<path d="M970,445 L974,466 L977.5,477 M973.5,445 L977.5,465 L980,473" stroke="#000" fill="none" stroke-width="1.6" stroke-linejoin="round" stroke-linecap="round" stroke-width="1.4"/>
<path d="M961,450 L967,449 L968,459 L963,462 M967,470 C966,474 968,477 971,478" stroke="#000" fill="none" stroke-width="1.6" stroke-linejoin="round" stroke-linecap="round" stroke-width="2"/>
<path d="M953.5,473 L971,463" stroke="#000" stroke-width="1.8"/>
</g>
<g>
<path d="M88,784 L134,822 L124,849 L115,849 L76,806 C72,797 75,789 80,786 C83,784 86,783 88,784 Z" stroke="#000" fill="#fff" stroke-width="3" stroke-linejoin="round" stroke-linecap="round"/>
<ellipse cx="92.5" cy="809" rx="6.5" ry="8" transform="rotate(-20 92.5 809)" stroke="#000" fill="none" stroke-width="1.6" stroke-linejoin="round" stroke-linecap="round" stroke-width="2.4"/>
<ellipse cx="92.5" cy="809" rx="3.5" ry="4.5" transform="rotate(-20 92.5 809)" stroke="#000" fill="none" stroke-width="1.6" stroke-linejoin="round" stroke-linecap="round" stroke-width="1.6"/>
<ellipse cx="92.5" cy="809" rx="1.4" ry="1.8" fill="#000"/>
<path d="M86,786 L131,825" stroke="#000" fill="none" stroke-width="1.6" stroke-linejoin="round" stroke-linecap="round"/>
<path d="M121,827 L135,823 L144,826 L151,838 L146,852 L137,851 L123,849 Z" stroke="#000" fill="#fff" stroke-width="3" stroke-linejoin="round" stroke-linecap="round"/>
<path d="M134,823 L131,849 M140,827 L137,849" stroke="#000" fill="none" stroke-width="1.6" stroke-linejoin="round" stroke-linecap="round"/>
<path d="M135,823 L158,809 L165,810 L173,823 L176,834 L143,852 L139,850 C144,845 146,833 143,826 Z" stroke="#000" fill="#fff" stroke-width="3" stroke-linejoin="round" stroke-linecap="round"/>
</g>
<g>
<path d="M1115.5,1011 L1131.5,994.5 L1144,1004 L1126.5,1023 Z" stroke="#000" fill="#fff" stroke-width="3" stroke-linejoin="round" stroke-linecap="round" stroke-width="3.4"/>
<path d="M1131,993 L1114,1010" stroke="#000" stroke-width="4.5"/>
<path d="M1144,1005 L1127,1023" stroke="#000" stroke-width="4.5"/>
<path d="M1106,1010 L1111,1008 L1126,1023 L1128,1028 L1128,1044 C1127,1049 1123,1052 1118,1051 C1114,1050 1110,1046 1108,1041 L1106,1030 Z" stroke="#000" fill="#fff" stroke-width="3" stroke-linejoin="round" stroke-linecap="round" stroke-width="3.2"/>
<path d="M1110,1011 L1124,1026 L1124.5,1047 M1121,1027 L1121.5,1046" stroke="#000" fill="none" stroke-width="1.6" stroke-linejoin="round" stroke-linecap="round" stroke-width="1.4"/>
<path d="M1111,1025 C1116,1026 1118,1032 1117,1040 C1116,1044 1113,1045 1110,1043" stroke="#000" fill="none" stroke-width="3" stroke-linejoin="round" stroke-linecap="round" stroke-width="2.8"/>
<path d="M1095,1037.5 L1113,1031.5" stroke="#000" stroke-width="1.8"/>
</g>
<g>
<path d="M479,901.5 C481,898 485,896 489,896.5 L511,909 C513,910.5 514,912 514,914 L514,962 C513,970 510,976 506,979 C502,983 498,985.5 494,985.5 C490,985 486,984 483,982 L466,971 C461,968 457,966 456.5,960 C456,955 456.5,950 458,946 C461,940 466,936 472,935 L479,933 Z" stroke="#000" fill="#fff" stroke-width="3" stroke-linejoin="round" stroke-linecap="round"/>
<path d="M492,908.5 C487,909 485,913 486,919 C487,925 491,930 496,929.5 C500,929 501.5,924 500.5,918 C499.5,912 496,908 492,908.5 Z" fill="#000"/>
<ellipse cx="495" cy="916" rx="1" ry="2" fill="#fff"/>
<path d="M478,933.5 L506,945 L513,939" stroke="#000" fill="none" stroke-width="3" stroke-linejoin="round" stroke-linecap="round" stroke-width="3.2"/>
<path d="M474,937 C468,941 466,950 467,958 C467.5,963 468,966 469,968" stroke="#000" fill="none" stroke-width="3" stroke-linejoin="round" stroke-linecap="round" stroke-width="3"/>
<path d="M485,938.5 C479,942 476,950 476,958 C476,963 476.5,967 477,971" stroke="#000" fill="none" stroke-width="3" stroke-linejoin="round" stroke-linecap="round" stroke-width="3"/>
<path d="M503,946.5 C495,948 489,954 487.5,962 C486.5,969 487,975 492,979.5 C497,982 502,978 505,973 C508,967 509,959 508,953" stroke="#000" fill="none" stroke-width="3" stroke-linejoin="round" stroke-linecap="round" stroke-width="3"/>
<path d="M509.5,912 L509.5,936 M510,948 L510,970" stroke="#000" fill="none" stroke-width="1.6" stroke-linejoin="round" stroke-linecap="round" stroke-width="1.4"/>
<path d="M491,920 L471,931.5 M463,936 L462,936.7 M455,941 L434,953 M427,957.5 L426.5,958" stroke="#000" stroke-width="1.6" fill="none" stroke-linecap="round"/>
</g>
<g>
<path d="M381.7,972.2 L405.2,958.6 C408,957 411,957 413,958.5 L416.5,963 C417.5,966 417,969 414.7,974.3 L390.6,986.9 Z" stroke="#000" fill="#fff" stroke-width="3" stroke-linejoin="round" stroke-linecap="round" stroke-width="3.2"/>
<path d="M396,967.5 L401,975.5 M403,963.3 L408,971.5" stroke="#000" fill="none" stroke-width="1.6" stroke-linejoin="round" stroke-linecap="round"/>
<path d="M355.5,984.8 L358.1,978.5 L367,969.1 L374.3,968.6 L380.6,973.3 L388,982.7 L390,992.1 L388,999 L381.7,1003.1 L370.1,1004.7 L362.3,1000 L356.5,992.1 Z" stroke="#000" fill="#fff" stroke-width="3" stroke-linejoin="round" stroke-linecap="round" stroke-width="3.4"/>
<path d="M359.5,982 L365,977.5 L374.5,979 L382.5,992 L376,997 L371,1001.5 L362,997 Z" stroke="#000" fill="none" stroke-width="1.6" stroke-linejoin="round" stroke-linecap="round" stroke-width="2"/>
<path d="M365,980.5 L372.5,987 L376.5,996.5 M372.5,987 L374.5,979" stroke="#000" fill="none" stroke-width="1.6" stroke-linejoin="round" stroke-linecap="round" stroke-width="1.8"/>
<path d="M374.5,970.5 C381,973 386,981 387,993 C387,997 385,1000 381,1002" stroke="#000" fill="none" stroke-width="1.6" stroke-linejoin="round" stroke-linecap="round" stroke-width="2"/>
</g>
<g>
<path d="M1212,524 C1216,520 1222,518.5 1226,521 C1230,525 1232.5,532 1233,540 C1233,546 1230,550 1225,550.5 C1220,551 1214,549 1211,543 C1208.5,537 1208.5,529 1212,524 Z" stroke="#000" fill="#fff" stroke-width="3" stroke-linejoin="round" stroke-linecap="round" stroke-width="4"/>
<path d="M1214.5,527.5 L1222.5,529.5 L1228.5,541.5 L1226,547 L1219.5,546.5 L1213.5,541 Z" stroke="#000" fill="none" stroke-width="1.6" stroke-linejoin="round" stroke-linecap="round" stroke-width="2.2"/>
<path d="M1218.5,531.5 L1219.8,546 M1221,523 L1228.5,541.5 M1213.5,534 L1215,542" stroke="#000" fill="none" stroke-width="1.6" stroke-linejoin="round" stroke-linecap="round" stroke-width="2.2"/>
</g>
<g>
<path d="M1933,334 L1966,327 L1970,340 L1936,347 C1931,346 1930,336 1933,334 Z" stroke="#000" fill="#fff" stroke-width="3" stroke-linejoin="round" stroke-linecap="round"/>
<path d="M1938,334 L1940,346 M1942,333 L1944,345 M1946,332 L1948,344 M1950,331 L1952,343" stroke="#000" fill="none" stroke-width="1.6" stroke-linejoin="round" stroke-linecap="round"/>
<ellipse cx="1976" cy="331" rx="12" ry="15" transform="rotate(-10 1976 331)" stroke="#000" fill="#fff" stroke-width="3" stroke-linejoin="round" stroke-linecap="round"/>
<path d="M1971,321 L1981,318 L1986,326 L1986,340 L1979,344 L1972,339 L1969,330 Z" stroke="#000" fill="none" stroke-width="1.6" stroke-linejoin="round" stroke-linecap="round"/>
<path d="M1966,327 L1966,342" stroke="#000" fill="none" stroke-width="3" stroke-linejoin="round" stroke-linecap="round"/>
</g>
<g>
<path d="M1447,746 L1479,739.5 C1483,739 1485,742 1486,746 L1487,755 C1487,757 1486,758.5 1484,759 L1452,767 Z" stroke="#000" fill="#fff" stroke-width="3" stroke-linejoin="round" stroke-linecap="round"/>
<path d="M1458,744 C1462,750 1463,758 1460,765 M1465,743 C1469,749 1470,757 1467,763 M1472,741.5 C1476,747 1477,755 1474,761.5 M1479,740 C1483,746 1483,754 1481,760" stroke="#000" fill="none" stroke-width="1.6" stroke-linejoin="round" stroke-linecap="round"/>
<path d="M1430,750 L1440,741.5 L1448,742 L1453,750 L1454,768 L1450,777 L1441,779.5 L1433,775 L1429,762 Z" stroke="#000" fill="#fff" stroke-width="3" stroke-linejoin="round" stroke-linecap="round" stroke-width="3.2"/>
<path d="M1433.5,750 L1442,745 L1449.5,753.5 L1449.5,773.5 L1442,777.5 L1434.5,773.5" stroke="#000" fill="none" stroke-width="1.6" stroke-linejoin="round" stroke-linecap="round" stroke-width="1.8"/>
<path d="M1442,745 L1442,777.5 M1449.5,753.5 L1453,750" stroke="#000" fill="none" stroke-width="1.6" stroke-linejoin="round" stroke-linecap="round" stroke-width="1.6"/>
</g>
<g>
<path d="M1670,680 L1684,674 L1693,676 C1697,684 1699,694 1698,704 L1693,710 L1680,713 C1675,708 1672,698 1671,690 Z" stroke="#000" fill="#fff" stroke-width="3" stroke-linejoin="round" stroke-linecap="round"/>
<path d="M1681,676 L1684,694 L1685,712 M1684,694 L1697,690" stroke="#000" fill="none" stroke-width="1.6" stroke-linejoin="round" stroke-linecap="round"/>
<path d="M1671,682 C1666,688 1667,702 1672,710 C1675,713 1678,714 1681,713" stroke="#000" fill="none" stroke-width="3" stroke-linejoin="round" stroke-linecap="round" stroke-width="3.4"/>
</g>
<text x="2001" y="655" text-anchor="middle" font-family="Liberation Sans, sans-serif" font-weight="bold" font-size="40" fill="#000">1</text>
<text x="1265" y="431" text-anchor="middle" font-family="Liberation Sans, sans-serif" font-weight="bold" font-size="40" fill="#000">2</text>
<text x="634" y="317" text-anchor="middle" font-family="Liberation Sans, sans-serif" font-weight="bold" font-size="40" fill="#000">3</text>
<text x="540" y="682" text-anchor="middle" font-family="Liberation Sans, sans-serif" font-weight="bold" font-size="40" fill="#000">4</text>
<text x="1943" y="262" text-anchor="middle" font-family="Liberation Sans, sans-serif" font-weight="bold" font-size="40" fill="#000">5</text>
<text x="1198" y="463" text-anchor="middle" font-family="Liberation Sans, sans-serif" font-weight="bold" font-size="40" fill="#000">6</text>
<text x="1463" y="865" text-anchor="middle" font-family="Liberation Sans, sans-serif" font-weight="bold" font-size="40" fill="#000">7</text>
<text x="1714" y="798" text-anchor="middle" font-family="Liberation Sans, sans-serif" font-weight="bold" font-size="40" fill="#000">8</text>
<text x="1801" y="711" text-anchor="middle" font-family="Liberation Sans, sans-serif" font-weight="bold" font-size="40" fill="#000">9</text>
<text x="567" y="1041" text-anchor="middle" font-family="Liberation Sans, sans-serif" font-weight="bold" font-size="40" fill="#000">10</text>
<text x="448" y="1061" text-anchor="middle" font-family="Liberation Sans, sans-serif" font-weight="bold" font-size="40" fill="#000">11</text>
<text x="29" y="1211.5" font-family="Liberation Sans, sans-serif" font-weight="bold" font-size="35" fill="#000" textLength="198" lengthAdjust="spacingAndGlyphs">ETN100747B</text>
<path d="M1990,613 L1970,569" stroke="#000" stroke-width="1.6" fill="none"/>
<path d="M1272,445 L1285,498" stroke="#000" stroke-width="1.6" fill="none"/>
<path d="M623,326 L604,374" stroke="#000" stroke-width="1.6" fill="none"/>
<path d="M519,684 L472,729" stroke="#000" stroke-width="1.6" fill="none"/>
<path d="M1954,276 L1970,317" stroke="#000" stroke-width="1.6" fill="none"/>
<path d="M1207,477 L1221,520" stroke="#000" stroke-width="1.6" fill="none"/>
<path d="M1703,755 L1688,714" stroke="#000" stroke-width="1.6" fill="none"/>
<path d="M1792,669 L1778,620" stroke="#000" stroke-width="1.6" fill="none"/>
<path d="M543,1010 L504,982" stroke="#000" stroke-width="1.6" fill="none"/>
<path d="M425,1029 L386,1001" stroke="#000" stroke-width="1.6" fill="none"/>
<path d="M1457.7,822.4 L1446,779.3" stroke="#000" stroke-width="1.6" fill="none"/>
</svg>
</body></html>
